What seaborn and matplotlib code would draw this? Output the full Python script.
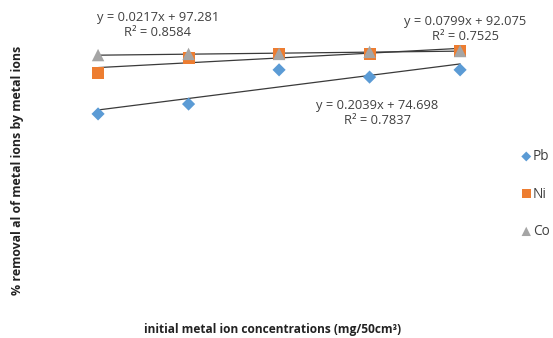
import numpy as np
import pandas as pd
import matplotlib
matplotlib.use("Agg")
import matplotlib.pyplot as plt
import seaborn as sns

# ---- data ----
concentrations = [20, 40, 60, 80, 100]
pb_removal = [77.6, 81.0, 92.8, 90.3, 92.8]
ni_removal = [91.7, 96.9, 98.3, 98.3, 99.3]
co_removal = [97.9, 98.3, 98.3, 99.0, 99.3]
series_names = ["Pb", "Ni", "Co"]
equations = ["y = 0.2039x + 74.698\nR² = 0.7837",
             "y = 0.0799x + 92.075\nR² = 0.7525",
             "y = 0.0217x + 97.281\nR² = 0.8584"]

sns.set_theme(style="white")
plt.rcParams['font.family'] = ['Open Sans', 'DejaVu Sans']

df = pd.DataFrame({
    "x": concentrations * 3,
    "y": pb_removal + ni_removal + co_removal,
    "metal": sum([[n] * len(concentrations) for n in series_names], []),
})

colors = {"Pb": "#5B9BD5", "Ni": "#ED7D31", "Co": "#A5A5A5"}
markers = {"Pb": "D", "Ni": "s", "Co": "^"}
sizes = {"Pb": 45, "Ni": 75, "Co": 80}

fig = plt.figure(figsize=(5.53, 3.38), dpi=100)
ax = fig.add_axes([70 / 553, (338 - 300) / 338, 410 / 553, 280 / 338])

for name in series_names:
    sub = df[df.metal == name]
    sns.regplot(data=sub, x="x", y="y", ax=ax, scatter=False, ci=None,
                line_kws=dict(color="#3a3a3a", lw=0.9), truncate=True)
for name in series_names:
    sub = df[df.metal == name]
    sns.scatterplot(data=sub, x="x", y="y", ax=ax, color=colors[name],
                    marker=markers[name], s=sizes[name], edgecolor="none",
                    label=name, zorder=3)

ax.set_xlim(13.8, 104.4)
ax.set_ylim(13.4, 110)
ax.set_xticks([])
ax.set_yticks([])
for s in ax.spines.values():
    s.set_visible(False)
ax.set_xlabel("")
ax.set_ylabel("")

# equation labels
fs = 9.3
fig.text(377 / 553, 1 - 113 / 338, equations[0], ha="center", va="center",
         fontsize=fs, linespacing=1.25, color="#404040")
fig.text(465 / 553, 1 - 29 / 338, equations[1], ha="center", va="center",
         fontsize=fs, linespacing=1.25, color="#404040")
fig.text(158 / 553, 1 - 25 / 338, equations[2], ha="center", va="center",
         fontsize=fs, linespacing=1.25, color="#404040")

leg = ax.legend(loc="center left", bbox_to_anchor=(514 / 553, 1 - 194 / 338),
                bbox_transform=fig.transFigure, frameon=False,
                handletextpad=0.0, labelspacing=1.65, fontsize=9.8,
                handlelength=1.0, borderaxespad=0, markerscale=0.75)
for t in leg.get_texts():
    t.set_color("#404040")

fig.text(18 / 553, 1 - 170 / 338, "% removal al of metal ions by metal ions",
         rotation=90, ha="center", va="center", fontsize=8.9,
         fontweight="bold", color="#222222")
fig.text(273 / 553, 1 - 330 / 338, "initial metal ion concentrations (mg/50cm³)",
         ha="center", va="center", fontsize=8.6, fontweight="bold",
         color="#222222")

fig.savefig("out.png", dpi=100)
